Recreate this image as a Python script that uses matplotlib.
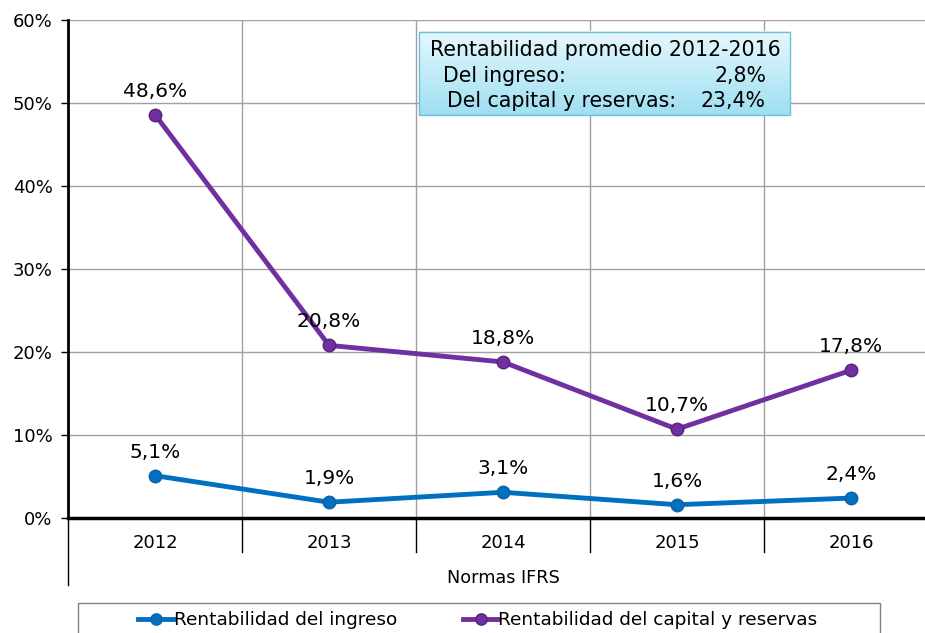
import matplotlib.pyplot as plt
from matplotlib.lines import Line2D
from matplotlib.patches import Rectangle
from matplotlib.colors import LinearSegmentedColormap
import numpy as np

years = ['2012', '2013', '2014', '2015', '2016']
ingreso = [5.1, 1.9, 3.1, 1.6, 2.4]
capital = [48.6, 20.8, 18.8, 10.7, 17.8]
yticks = [0, 10, 20, 30, 40, 50, 60]

blue = '#0070C0'
purple = '#7030A0'

plt.rcParams['font.family'] = ['DejaVu Sans']

fig = plt.figure(figsize=(9.25, 6.33), dpi=100)
W, H = 925, 633
ax = fig.add_axes([68 / W, 1 - 518 / H, 870 / W, 498 / H])

x = np.arange(len(years))
l1, = ax.plot(x, ingreso, color=blue, lw=3.5, marker='o', ms=9,
              mfc=blue, mec='#1560a0', zorder=3, label='Rentabilidad del ingreso')
l2, = ax.plot(x, capital, color=purple, lw=3.5, marker='o', ms=9,
              mfc=purple, mec='#5a2080', zorder=3,
              label='Rentabilidad del capital y reservas')

for vals in (ingreso, capital):
    for xi, v in zip(x, vals):
        ax.annotate(f'{v:.1f}%'.replace('.', ','), (xi, v), xytext=(0, 17),
                    textcoords='offset points', ha='center', va='center',
                    fontsize=14.5)

ax.set_xlim(-0.5, 4.5)
ax.set_ylim(0, 60)
ax.set_yticks(yticks)
ax.set_yticklabels([f'{t}%' for t in yticks], fontsize=13)
ax.set_xticks([])
ax.set_xticks(np.arange(0.5, 4.5, 1), minor=True)
ax.tick_params(axis='x', which='both', length=0, labelbottom=False)
ax.tick_params(axis='y', length=5, width=1, pad=6)
ax.grid(axis='y', color='#a0a0a0', lw=1)
ax.grid(axis='x', which='minor', color='#a0a0a0', lw=1)
ax.set_axisbelow(True)
for s in ['top', 'right']:
    ax.spines[s].set_visible(False)
ax.spines['left'].set_linewidth(2)
ax.spines['bottom'].set_linewidth(2.5)

# multilevel category axis
trans = ax.get_xaxis_transform()
for xi, yr in zip(x, years):
    ax.text(xi, -25 / 498, yr, transform=trans, ha='center', va='center', fontsize=13)
for b in np.arange(0.5, 4.5, 1):
    ax.add_line(Line2D([b, b], [0, -34 / 498], transform=trans, color='black',
                       lw=1, clip_on=False))
ax.add_line(Line2D([-0.5, -0.5], [0, -67 / 498], transform=trans, color='black',
                   lw=1, clip_on=False))
ax.text(2.0, -60 / 498, 'Normas IFRS', transform=trans, ha='center',
        va='center', fontsize=12.7)


def py(p):
    return (518 - p) / 498 * 60


def px(p):
    return (p - 68) / 174 - 0.5


# summary box
ax.text(px(605), py(50), 'Rentabilidad promedio 2012-2016', ha='center',
        va='center', fontsize=14.8, zorder=5)
ax.text(px(443), py(76), 'Del ingreso:', ha='left', va='center', fontsize=14.8, zorder=5)
ax.text(px(766), py(76), '2,8%', ha='right', va='center', fontsize=14.8, zorder=5)
ax.text(px(447), py(101), 'Del capital y reservas:', ha='left', va='center',
        fontsize=14.8, zorder=5)
ax.text(px(766), py(101), '23,4%', ha='right', va='center', fontsize=14.8, zorder=5)
grad = np.linspace(0, 1, 50).reshape(-1, 1)
box_l, box_r = px(419), px(790)
box_t, box_b = py(32), py(115)
ax.imshow(grad, extent=[box_l, box_r, box_b, box_t], aspect='auto',
          cmap=LinearSegmentedColormap.from_list('g', ['#e6f8fd', '#9fdff2']),
          zorder=4)
ax.add_patch(Rectangle((box_l, box_b), box_r - box_l, box_t - box_b,
                       fill=False, ec='#6fbfdc', lw=1, zorder=4.5))
ax.set_xlim(-0.5, 4.5)
ax.set_ylim(0, 60)

# legend
fig.patches.append(Rectangle((78 / W, -0.05), (880 - 78) / W, (633 - 603) / H + 0.05,
                             transform=fig.transFigure, fill=False, ec='#808080',
                             lw=1))
fig.legend(handles=[l1, l2], loc='center', bbox_to_anchor=(478 / W, 1 - 620 / H),
           ncol=2, frameon=False, fontsize=13.3, handlelength=1.9,
           handletextpad=0.0, columnspacing=3.6, borderpad=0, markerscale=0.9)

fig.savefig('out.png', dpi=100)
